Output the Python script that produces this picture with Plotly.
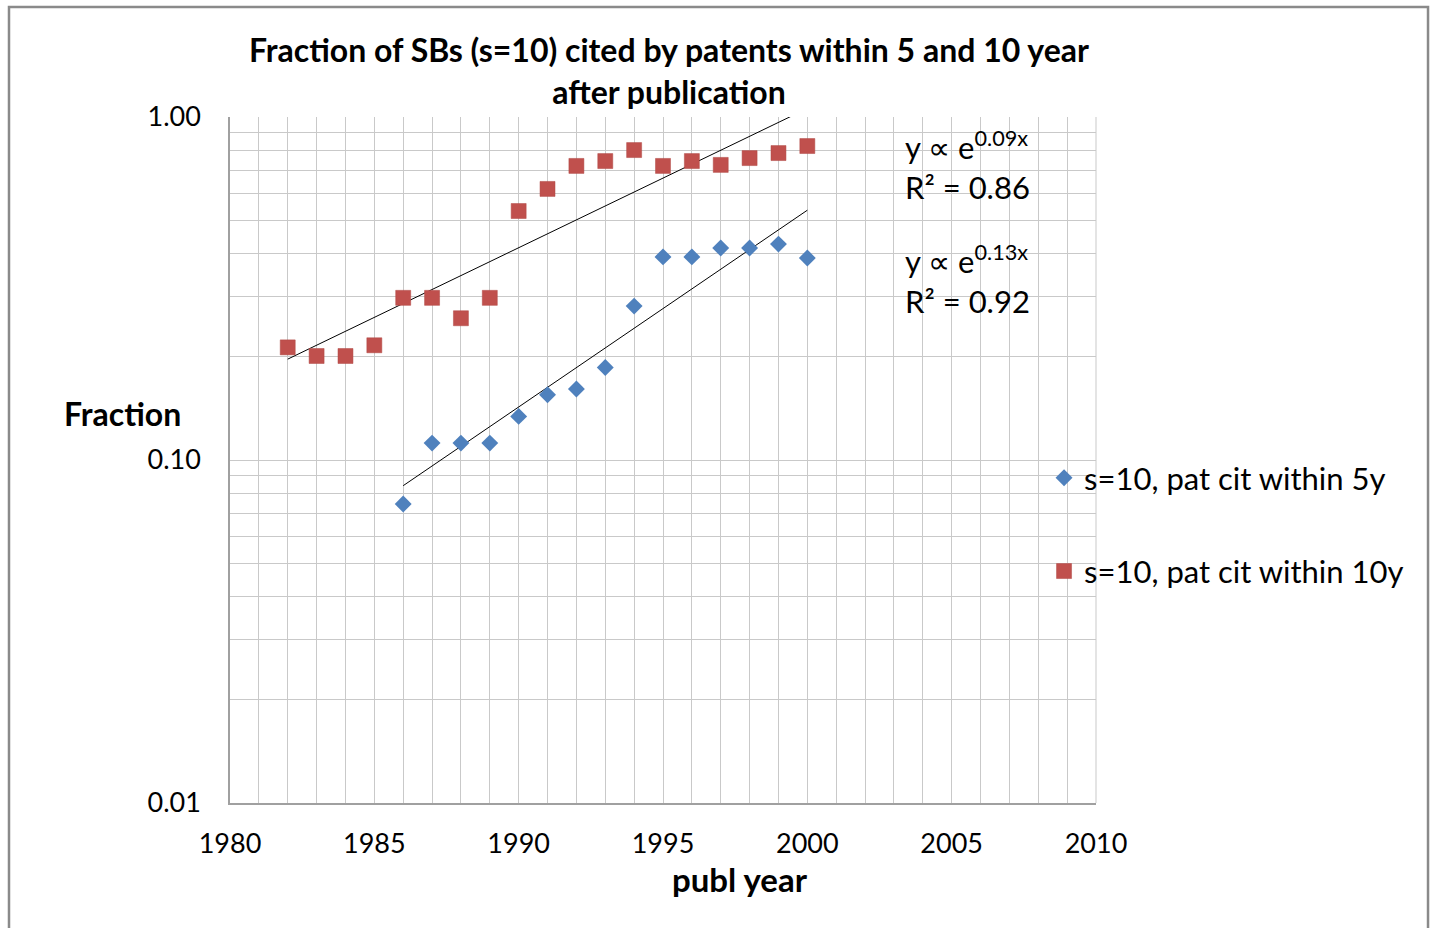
import numpy as np
import plotly.graph_objects as go

years_10y = list(range(1982, 2001))
frac_10y = [0.213, 0.201, 0.201, 0.216, 0.297, 0.297, 0.259, 0.297, 0.532, 0.617,
            0.720, 0.744, 0.801, 0.720, 0.744, 0.725, 0.759, 0.785, 0.823]
years_5y = list(range(1986, 2001))
frac_5y = [0.0744, 0.112, 0.112, 0.112, 0.134, 0.155, 0.161, 0.186, 0.281, 0.391,
           0.391, 0.415, 0.415, 0.426, 0.388]
name_5y = "s=10, pat cit within 5y"
name_10y = "s=10, pat cit within 10y"
fit_labels = [("y ∝ e<sup>0.09x</sup>", "R² = 0.86"), ("y ∝ e<sup>0.13x</sup>", "R² = 0.92")]
y_major = [0.01, 0.1, 1.0]
y_major_text = ["0.01", "0.10", "1.00"]
x_major = [1980, 1985, 1990, 1995, 2000, 2005, 2010]

FONT = "Lato, Open Sans, sans-serif"
GRID = "#c9c9c9"

def expfit(xs, ys):
    xs = np.array(xs, float)
    b, a = np.polyfit(xs, np.log(ys), 1)
    return xs, np.exp(a + b * xs)

fig = go.Figure()

fx, fy = expfit(years_10y, frac_10y)
fig.add_trace(go.Scatter(x=fx, y=fy, mode="lines", line=dict(color="black", width=1),
                         showlegend=False, hoverinfo="skip"))
fx, fy = expfit(years_5y, frac_5y)
fig.add_trace(go.Scatter(x=fx, y=fy, mode="lines", line=dict(color="black", width=1),
                         showlegend=False, hoverinfo="skip"))

fig.add_trace(go.Scatter(x=years_5y, y=frac_5y, mode="markers", name=name_5y,
                         legendgroup="a",
                         marker=dict(symbol="diamond", size=13, color="#4F81BD",
                                     line=dict(width=0))))
fig.add_trace(go.Scatter(x=years_10y, y=frac_10y, mode="markers", name=name_10y,
                         legendgroup="b",
                         marker=dict(symbol="square", size=15, color="#C0504D",
                                     line=dict(width=0.5, color="#b04844"))))

y_minor = [d * k for d in [0.01, 0.1] for k in range(2, 10)]

fig.update_layout(
    width=1432, height=928,
    paper_bgcolor="white", plot_bgcolor="white",
    margin=dict(l=230, r=336, t=117, b=125),
    font=dict(family=FONT, size=27, color="black"),
    showlegend=True,
    legend=dict(x=0.94, y=0.513, xanchor="left", yanchor="top",
                font=dict(size=31, family=FONT), tracegroupgap=50,
                bgcolor="rgba(0,0,0,0)", itemwidth=30),
    xaxis=dict(range=[1980, 2010], tickmode="array", tickvals=x_major,
               ticktext=[str(v) for v in x_major],
               showgrid=True, gridcolor=GRID, gridwidth=1,
               minor=dict(dtick=1, tick0=1980, showgrid=True, gridcolor=GRID, gridwidth=1),
               showline=True, linecolor="#a0a0a0", linewidth=1.5,
               zeroline=False, ticks="", ticklabelstandoff=16,
               tickfont=dict(size=27, family=FONT)),
    yaxis=dict(type="log", range=[-2, 0], tickmode="array", tickvals=y_major,
               ticktext=y_major_text,
               showgrid=True, gridcolor=GRID, gridwidth=1,
               minor=dict(tickmode="array", tickvals=y_minor, showgrid=True,
                          gridcolor=GRID, gridwidth=1),
               showline=True, linecolor="#a0a0a0", linewidth=1.5,
               zeroline=False, ticks="", ticklabelstandoff=22,
               tickfont=dict(size=27, family=FONT)),
    shapes=[
        dict(type="line", xref="paper", yref="paper", x0=1.0, x1=1.0, y0=0, y1=1,
             line=dict(color=GRID, width=1)),
        dict(type="rect", xref="paper", yref="paper",
             x0=-0.2552, x1=1.3834, y0=-0.2, y1=1.1603,
             line=dict(color="#8a8a8a", width=2.5)),
    ],
)

annos = [
    dict(text="<b>Fraction of SBs (s=10) cited by patents within 5 and 10 year<br>after publication</b>",
         xref="paper", yref="paper", x=(669 - 230) / 866, y=(803 - 28) / 686, xanchor="center",
         yanchor="top", showarrow=False, font=dict(size=32, family=FONT)),
    dict(text="<b>Fraction</b>", xref="paper", yref="paper",
         x=(62 - 230) / 866, y=(803 - 414) / 686, xanchor="left", yanchor="middle",
         showarrow=False, font=dict(size=32, family=FONT)),
    dict(text="<b>publ year</b>", xref="paper", yref="paper",
         x=(740 - 230) / 866, y=(803 - 879) / 686, xanchor="center", yanchor="middle",
         showarrow=False, font=dict(size=33, family=FONT)),
]
for (eq, r2), (py1, py2) in zip(fit_labels, [(145, 187), (259, 301)]):
    annos.append(dict(text=eq, xref="paper", yref="paper", x=(903 - 230) / 866,
                      y=(803 - py1) / 686, xanchor="left", yanchor="middle",
                      showarrow=False, font=dict(size=31, family=FONT)))
    annos.append(dict(text=r2, xref="paper", yref="paper", x=(903 - 230) / 866,
                      y=(803 - py2) / 686, xanchor="left", yanchor="middle",
                      showarrow=False, font=dict(size=31, family=FONT)))
fig.update_layout(annotations=annos)

fig.write_html("out.html", config={"displayModeBar": False},
               post_script="document.body.style.margin='0';")
